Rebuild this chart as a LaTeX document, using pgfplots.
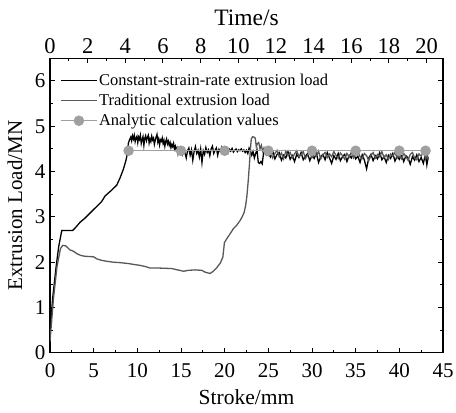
\documentclass[border=0pt]{standalone}
\usepackage{fontspec}
\setmainfont{Liberation Serif}
\usepackage{pgfplots}
\pgfplotsset{compat=1.18}

\definecolor{tradgray}{HTML}{585858}
\definecolor{calcgray}{HTML}{A0A0A0}

\pgfplotsset{
  frame/.style={
    scale only axis, width=393pt, height=294.5pt,
    ymin=0, ymax=6.5,
    tick align=inside,
    major tick length=5pt, minor tick length=3pt,
    axis line style={line width=1.3pt},
    every tick/.style={line width=1pt, black},
    /pgf/number format/assume math mode=true,
    tick label style={font=\fontsize{21}{25}\selectfont},
    label style={font=\fontsize{21.5}{25}\selectfont},
  }
}

\begin{document}
\begin{tikzpicture}
\begin{axis}[
  frame, name=main,
  xmin=0, xmax=45,
  xtick={0,5,...,45}, ytick={0,1,...,6},
  minor x tick num=1, minor y tick num=1,
  xtick pos=left, ytick pos=both, yticklabel pos=left,
  xticklabel style={anchor=center, yshift=-17.5pt},
  yticklabel style={anchor=east, inner sep=0pt, xshift=-4.5pt},
  xlabel={Stroke/mm}, ylabel={Extrusion Load/MN},
  xlabel style={at={(axis description cs:0.5,-0.1494)}, anchor=center},
  ylabel style={at={(axis description cs:-0.089,0.5)}, anchor=center, font=\fontsize{21}{25}\selectfont},
  legend cell align=left,
  legend style={at={(0.018,0.958)}, anchor=north west, draw=none, fill=none,
    font=\fontsize{16.5}{19}\selectfont, row sep=4pt, nodes={inner sep=1.5pt}},
  legend image code/.code={\draw[mark repeat=2,mark phase=2,#1] plot coordinates {(0pt,0pt) (18pt,0pt) (36pt,0pt)};},
]
% constant strain rate
\addplot[black, line width=1.3pt] coordinates {
(0,0.45) (0.3,1.2) (0.7,1.9) (1.0,2.35) (1.35,2.70) (2.6,2.70) (3.0,2.78) (3.44,2.88)
(4.0,2.97) (4.77,3.12) (5.3,3.22) (5.92,3.34) (6.3,3.46) (7.0,3.58) (7.64,3.70)
(8.0,3.85) (8.4,4.05) (8.7,4.25) (8.86,4.40) (8.97,4.62)
(9.10,4.70) (9.25,4.76) (9.35,4.68) (9.45,4.79) (9.55,4.72) (9.65,4.80) (9.75,4.66)
(9.85,4.74) (9.95,4.78) (10.05,4.64) (10.15,4.76) (10.25,4.71) (10.35,4.80) (10.45,4.62)
(10.55,4.70) (10.65,4.77) (10.75,4.58) (10.85,4.73) (10.95,4.79) (11.05,4.68) (11.15,4.75)
(11.25,4.80) (11.35,4.63) (11.45,4.72) (11.55,4.66) (11.65,4.78) (11.75,4.70) (11.85,4.74)
(11.95,4.60) (12.05,4.69) (12.15,4.76) (12.25,4.82) (12.35,4.65) (12.45,4.72) (12.55,4.59)
(12.65,4.70) (12.75,4.67) (12.85,4.74) (12.95,4.62) (13.05,4.69) (13.15,4.56) (13.25,4.66)
(13.35,4.72) (13.45,4.61) (13.55,4.67) (13.65,4.58) (13.75,4.64) (13.85,4.53) (13.95,4.60)
(14.05,4.55) (14.15,4.62) (14.25,4.50) (14.35,4.56) (14.45,4.47) (14.55,4.52) (14.65,4.40)
(14.75,4.50) (14.85,4.44)
(15.0,4.48) (15.15,4.38) (15.3,4.50) (15.45,4.42) (15.6,4.30) (15.75,4.46) (15.9,4.52)
(16.05,4.36) (16.2,4.48) (16.35,4.25) (16.5,4.44) (16.65,4.55) (16.8,4.40) (16.95,4.47)
(17.1,4.32) (17.25,4.50) (17.4,4.20) (17.55,4.46) (17.7,4.38) (17.85,4.53) (18.0,4.42)
(18.15,4.48) (18.3,4.35) (18.45,4.50) (18.6,4.56) (18.75,4.40) (18.9,4.47) (19.05,4.52)
(19.2,4.36) (19.35,4.49) (19.5,4.44) (19.65,4.53) (19.8,4.41) (19.95,4.48) (20.1,4.46)
(20.25,4.52) (20.4,4.42) (20.55,4.49) (20.7,4.45) (20.85,4.51) (21.0,4.43) (21.15,4.47)
(21.3,4.50) (21.45,4.44) (21.6,4.48) (21.75,4.46) (21.9,4.50) (22.05,4.45) (22.2,4.48)
(22.35,4.42) (22.5,4.47) (22.65,4.40) (22.8,4.52) (22.95,4.46) (23.1,4.36) (23.25,4.44)
(23.4,4.30) (23.55,4.40) (23.7,4.48) (23.85,4.20) (24.0,4.18) (24.15,4.22) (24.3,4.17)
(24.45,4.40) (24.6,4.46) (24.75,4.38) (24.9,4.48)
(25.0,4.40) (25.25,4.32) (25.5,4.45) (25.75,4.28) (26.0,4.38) (26.25,4.42) (26.5,4.25)
(26.75,4.36) (27.0,4.30) (27.25,4.44) (27.5,4.27) (27.75,4.35) (28.0,4.22) (28.25,4.38)
(28.5,4.31) (28.75,4.42) (29.0,4.26) (29.25,4.34) (29.5,4.40) (29.75,4.24) (30.0,4.36)
(30.25,4.29) (30.5,4.41) (30.75,4.20) (31.0,4.33) (31.25,4.38) (31.5,4.26) (31.75,4.42)
(32.0,4.30) (32.25,4.18) (32.5,4.35) (32.75,4.27) (33.0,4.40) (33.25,4.24) (33.5,4.33)
(33.75,4.38) (34.0,4.22) (34.25,4.36) (34.5,4.30) (34.75,4.41) (35.0,4.28) (35.25,4.34)
(35.5,4.20) (35.75,4.37) (36.0,4.25) (36.25,4.06) (36.5,4.30) (36.75,4.38) (37.0,4.24)
(37.25,4.35) (37.5,4.28) (37.75,4.42) (38.0,4.26) (38.25,4.33) (38.5,4.20) (38.75,4.36)
(39.0,4.29) (39.25,4.40) (39.5,4.23) (39.75,4.34) (40.0,4.27) (40.25,4.38) (40.5,4.22)
(40.75,4.35) (41.0,4.30) (41.25,4.16) (41.5,4.33) (41.75,4.25) (42.0,4.37) (42.25,4.22)
(42.5,4.31) (42.75,4.18) (43.0,4.40) (43.15,4.15) (43.3,4.32)
};
\addlegendentry{Constant-strain-rate extrusion load}
% traditional
\addplot[tradgray, line width=1.3pt] coordinates {
(0,0.25) (0.4,1.2) (0.8,1.9) (1.2,2.3) (1.45,2.37) (1.8,2.36) (2.29,2.27) (2.7,2.24)
(3.06,2.19) (3.5,2.15) (4.0,2.13) (4.97,2.12) (5.4,2.07) (5.92,2.04) (6.5,2.02) (7.26,2.00)
(8.0,1.99) (8.98,1.97) (9.6,1.95) (10.3,1.93) (11.0,1.90) (11.46,1.87) (12.5,1.87)
(13.94,1.86) (14.6,1.83) (15.3,1.80) (15.85,1.82) (16.6,1.83) (17.38,1.82) (17.76,1.78)
(18.33,1.75) (18.7,1.80) (19.1,1.88) (19.5,1.98) (19.79,2.11) (19.9,2.30) (19.97,2.43)
(20.25,2.52) (20.6,2.62) (21.0,2.74) (21.4,2.82) (21.77,2.92) (22.0,3.0) (22.23,3.10)
(22.4,3.25) (22.54,3.45) (22.7,3.80) (22.84,4.17) (22.95,4.50) (23.05,4.72) (23.2,4.77)
(23.35,4.76) (23.5,4.74) (23.62,4.55) (23.75,4.62) (23.9,4.64) (24.05,4.50) (24.2,4.58)
(24.35,4.45) (24.5,4.52) (24.65,4.40) (24.8,4.48)
(25.0,4.36) (25.25,4.44) (25.5,4.30) (25.75,4.40) (26.0,4.47) (26.25,4.32) (26.5,4.41)
(26.75,4.28) (27.0,4.45) (27.25,4.35) (27.5,4.42) (27.75,4.30) (28.0,4.39) (28.25,4.46)
(28.5,4.33) (28.75,4.37) (29.0,4.44) (29.25,4.29) (29.5,4.36) (29.75,4.43) (30.0,4.31)
(30.25,4.40) (30.5,4.34) (30.75,4.45) (31.0,4.28) (31.25,4.37) (31.5,4.42) (31.75,4.31)
(32.0,4.39) (32.25,4.33) (32.5,4.44) (32.75,4.36) (33.0,4.29) (33.25,4.41) (33.5,4.35)
(33.75,4.27) (34.0,4.40) (34.25,4.32) (34.5,4.43) (34.75,4.30) (35.0,4.38) (35.25,4.45)
(35.5,4.33) (35.75,4.29) (36.0,4.40) (36.25,4.35) (36.5,4.24) (36.75,4.36) (37.0,4.42)
(37.25,4.30) (37.5,4.38) (37.75,4.33) (38.0,4.44) (38.25,4.31) (38.5,4.37) (38.75,4.27)
(39.0,4.39) (39.25,4.34) (39.5,4.42) (39.75,4.30) (40.0,4.36) (40.25,4.28) (40.5,4.40)
(40.75,4.33) (41.0,4.25) (41.25,4.38) (41.5,4.42) (41.75,4.30) (42.0,4.26) (42.25,4.39)
(42.5,4.34) (42.75,4.44) (43.0,4.28) (43.15,4.45) (43.3,4.25)
};
\addlegendentry{Traditional extrusion load}
% analytic
\addplot[calcgray, line width=1.3pt, mark=*, mark size=4.6pt, mark options={solid, fill=calcgray, draw=calcgray}] coordinates {
(9,4.46) (15,4.46) (20,4.46) (25,4.46) (30,4.46) (35,4.46) (40,4.46) (43,4.46)
};
\addlegendentry{Analytic calculation values}
\end{axis}
\begin{axis}[
  frame,
  xmin=0, xmax=20.87,
  axis x line*=top, axis y line=none,
  xtick={0,2,...,20}, minor x tick num=1,
  xticklabel style={anchor=center, yshift=12.5pt, font=\fontsize{22.5}{26}\selectfont},
  xlabel={Time/s},
  xlabel style={at={(axis description cs:0.5,1.1358)}, anchor=center, font=\fontsize{23.5}{27}\selectfont},
]
\end{axis}
\pgfresetboundingbox
\path ([shift={(-50pt,-59.3pt)}]main.south west) rectangle ([shift={(13pt,58.3pt)}]main.north east);
\end{tikzpicture}
\end{document}
